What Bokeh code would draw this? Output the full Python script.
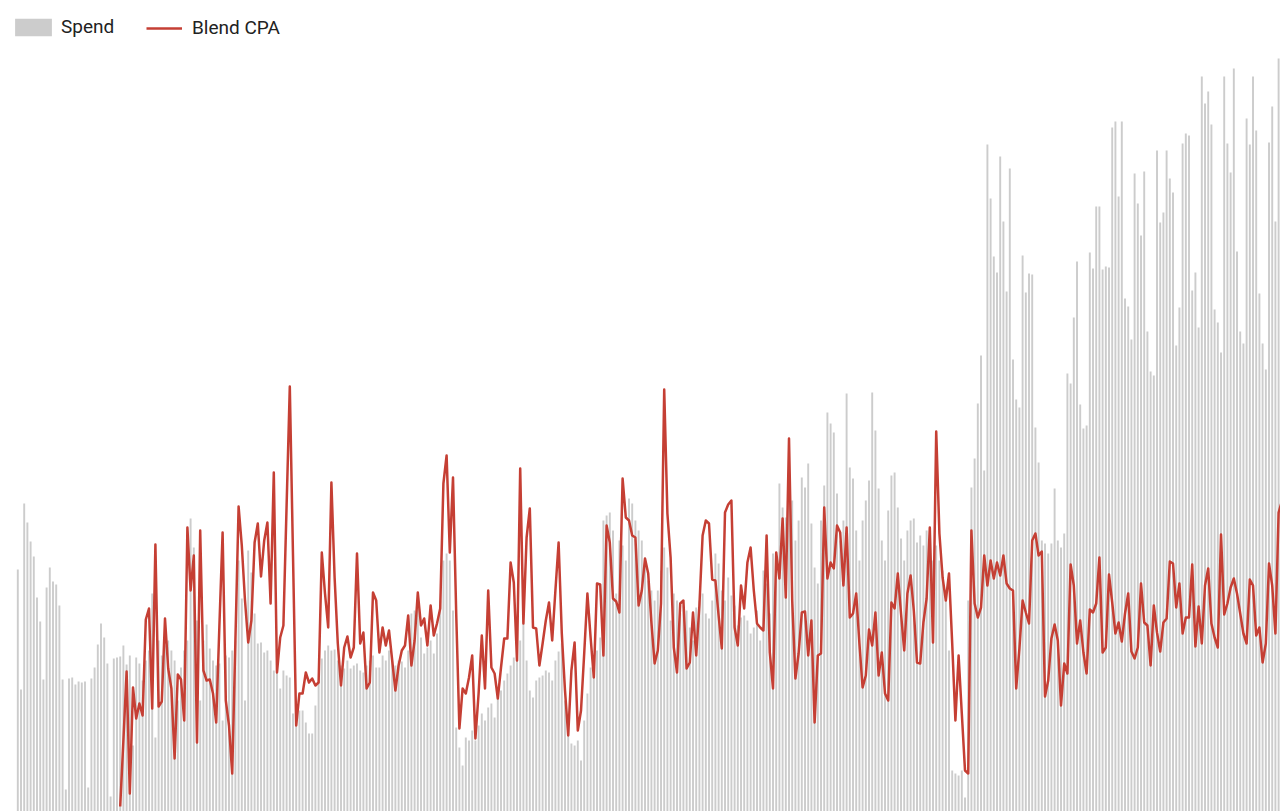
from bokeh.plotting import figure
from bokeh.models import Range1d, Legend, LegendItem, ColumnDataSource
from bokeh.embed import file_html
from bokeh.resources import INLINE

# Daily spend (index = day number)
spend = [
    242, 122, 308, 289, 270, 255, 214, 190, 132, 224,
    244, 230, 227, 206, 132, 22, 133, 134, 127, 130,
    129, 130, 24, 133, 144, 167, 188, 174, 148, 15,
    153, 154, 155, 166, 147, 156, 66, 154, 148, 131,
    151, 161, 218, 74, 171, 156, 166, 171, 161, 151,
    111, 144, 161, 171, 293, 264, 191, 111, 171, 187,
    163, 151, 146, 148, 91, 156, 154, 161, 171, 251,
    213, 111, 261, 239, 198, 168, 169, 159, 161, 151,
    141, 146, 123, 141, 136, 134, 98, 106, 101, 101,
    89, 78, 78, 106, 131, 153, 161, 166, 161, 162,
    151, 146, 143, 151, 143, 146, 148, 141, 139, 146,
    151, 156, 144, 144, 156, 151, 161, 151, 146, 151,
    150, 144, 161, 198, 201, 203, 174, 158, 164, 171,
    158, 178, 211, 251, 258, 251, 201, 84, 64, 46,
    74, 71, 81, 71, 86, 98, 91, 104, 108, 94,
    118, 121, 131, 138, 146, 154, 154, 171, 188, 151,
    121, 114, 131, 134, 136, 141, 139, 131, 151, 160,
    168, 111, 84, 68, 66, 71, 51, 91, 118, 144,
    156, 161, 174, 291, 296, 299, 281, 218, 271, 266,
    251, 313, 308, 291, 281, 271, 251, 231, 221, 211,
    221, 241, 264, 244, 191, 218, 211, 198, 206, 201,
    184, 171, 204, 211, 218, 198, 193, 211, 258, 248,
    221, 211, 234, 216, 206, 186, 194, 196, 191, 178,
    184, 201, 171, 241, 228, 198, 258, 256, 328, 304,
    294, 321, 311, 271, 291, 334, 324, 348, 288, 244,
    228, 291, 326, 399, 388, 379, 318, 271, 291, 418,
    344, 333, 281, 251, 291, 311, 331, 419, 381, 323,
    271, 251, 301, 336, 339, 304, 273, 251, 281, 291,
    293, 269, 276, 266, 281, 271, 251, 266, 251, 241,
    211, 161, 41, 38, 36, 41, 14, 211, 324, 353,
    408, 456, 341, 667, 613, 555, 539, 655, 590, 520,
    643, 452, 412, 404, 556, 519, 538, 537, 384, 349,
    271, 268, 258, 268, 323, 271, 264, 278, 438, 428,
    494, 550, 407, 383, 386, 559, 543, 605, 605, 542,
    545, 544, 684, 690, 615, 690, 513, 505, 472, 638,
    608, 576, 640, 480, 440, 436, 661, 589, 599, 661,
    633, 619, 466, 504, 668, 678, 676, 521, 539, 484,
    735, 708, 720, 687, 502, 489, 459, 735, 668, 639,
    743, 560, 480, 468, 693, 667, 735, 681, 518, 468,
    442, 669, 705, 590, 753, 711,
]

# Blended CPA, starting on day 32
cpa_start_day = 32
cpa = [
    0.5, 7.1, 14.0, 1.8, 12.4, 9.3, 10.8, 9.6, 19.2, 20.3,
    10.3, 26.7, 10.5, 11.0, 19.3, 14.3, 12.3, 5.3, 13.7, 13.2,
    9.1, 28.4, 22.1, 25.6, 6.9, 28.1, 14.1, 13.1, 13.2, 11.8,
    8.9, 18.6, 27.9, 11.1, 8.6, 3.8, 17.1, 30.5, 26.6, 21.1,
    16.9, 19.1, 26.9, 28.8, 23.5, 27.1, 28.9, 20.8, 33.9, 13.9,
    17.4, 18.6, 30.6, 42.5, 25.6, 8.6, 11.8, 11.8, 13.9, 12.9,
    13.3, 12.6, 12.9, 25.9, 21.8, 18.4, 32.9, 23.4, 16.8, 12.6,
    16.4, 17.5, 15.4, 16.4, 25.8, 16.8, 17.9, 12.3, 12.9, 21.9,
    21.1, 15.9, 18.4, 16.6, 18.1, 15.1, 12.1, 14.6, 16.1, 16.6,
    19.6, 14.6, 17.1, 21.9, 18.6, 19.3, 16.6, 20.6, 17.6, 18.8,
    20.3, 32.8, 35.6, 25.9, 33.4, 19.8, 8.3, 12.3, 11.8, 13.4,
    15.6, 7.3, 11.8, 17.6, 12.3, 22.1, 14.4, 13.8, 11.3, 14.4,
    17.3, 17.3, 24.9, 22.9, 15.1, 34.3, 18.8, 27.4, 30.3, 18.4,
    18.3, 14.6, 16.8, 19.1, 20.9, 17.1, 22.1, 26.9, 17.8, 12.1,
    7.6, 14.1, 16.9, 8.1, 10.1, 15.8, 21.8, 17.4, 13.4, 22.8,
    22.7, 15.6, 28.6, 26.9, 21.3, 21.0, 19.9, 33.3, 29.4, 29.1,
    27.6, 27.4, 20.6, 22.1, 25.3, 23.8, 18.9, 14.8, 16.1, 20.8,
    42.2, 29.8, 25.4, 16.4, 13.9, 20.8, 21.1, 14.3, 14.9, 19.9,
    15.6, 20.6, 27.6, 29.1, 28.8, 23.2, 23.1, 19.6, 16.3, 29.9,
    30.7, 31.1, 18.4, 16.6, 22.6, 20.3, 24.9, 26.4, 22.1, 18.8,
    18.4, 18.1, 27.6, 15.9, 12.3, 25.9, 23.3, 29.3, 21.4, 37.3,
    21.1, 13.3, 15.8, 19.9, 20.0, 15.6, 19.1, 8.9, 15.6, 15.8,
    30.4, 23.3, 24.9, 24.3, 28.6, 27.9, 22.6, 28.4, 19.4, 19.8,
    21.8, 16.8, 12.4, 13.6, 18.2, 16.6, 19.9, 13.6, 15.9, 11.8,
    11.1, 20.9, 20.3, 23.8, 19.8, 16.1, 21.8, 23.6, 20.1, 14.9,
    14.8, 18.9, 21.3, 28.4, 16.9, 38.0, 27.8, 23.4, 21.1, 23.8,
    16.8, 9.1, 15.6, 9.8, 4.1, 3.8, 28.1, 20.8, 19.4, 20.4,
    25.6, 22.6, 25.1, 23.3, 24.9, 23.6, 25.6, 22.8, 22.3, 22.1,
    12.3, 16.3, 21.1, 19.9, 18.8, 27.1, 27.8, 25.6, 26.0, 11.5,
    13.1, 17.3, 18.7, 17.1, 10.6, 14.8, 13.8, 24.7, 22.6, 16.8,
    19.1, 15.9, 13.8, 20.2, 19.9, 20.8, 25.4, 15.9, 16.4, 23.7,
    20.9, 17.8, 18.9, 17.0, 19.8, 21.8, 16.0, 15.3, 16.4, 22.8,
    18.9, 18.6, 14.6, 20.6, 17.9, 16.0, 18.9, 19.3, 25.0, 24.8,
    20.4, 22.8, 17.8, 19.4, 19.4, 24.7, 16.5, 20.5, 16.8, 22.6,
    24.3, 18.8, 17.4, 16.4, 27.7, 19.7, 20.8, 22.4, 23.3, 21.8,
    19.8, 17.8, 16.8, 23.2, 22.6, 17.6, 18.4, 14.9, 16.8, 24.8,
    22.6, 17.8, 29.9, 31.0,
]

series_names = ["Spend", "Blend CPA"]

days = list(range(len(spend)))
cpa_days = list(range(cpa_start_day, cpa_start_day + len(cpa)))

bar_src = ColumnDataSource(dict(day=days, spend=spend))
line_src = ColumnDataSource(dict(day=cpa_days, cpa=cpa))

W, H = 1280, 811
p = figure(
    width=W, height=H,
    output_backend="svg", toolbar_location=None,
    x_range=Range1d(-5.406, 394.59),
    y_range=Range1d(0, 811),
    x_axis_location=None, y_axis_location=None,
    min_border=0, min_border_left=0, min_border_right=0,
    min_border_top=0, min_border_bottom=0,
)
p.extra_y_ranges = {"cpa": Range1d(0, 81.1)}
p.grid.visible = False
p.outline_line_color = None
p.background_fill_color = "white"
p.border_fill_color = "white"

bars = p.vbar(x="day", top="spend", bottom=0, width=0.6, source=bar_src,
              fill_color="#cccccc", line_color=None)
line = p.line(x="day", y="cpa", source=line_src, y_range_name="cpa",
              line_color="#c53f34", line_width=2.5, line_join="round")

common = dict(
    orientation="horizontal", padding=0, margin=0,
    border_line_color=None, background_fill_alpha=0,
    label_text_font="Roboto", label_text_font_size="19px",
    label_text_color="#222222", label_text_baseline="middle",
)
# Spend swatch (area legend glyphs are inset by 10%)
leg1 = Legend(items=[LegendItem(label=series_names[0], renderers=[bars])],
              location=(10, H - 38), glyph_width=46, glyph_height=22,
              label_height=22, label_standoff=5, **common)
leg2 = Legend(items=[LegendItem(label=series_names[1], renderers=[line])],
              location=(146, H - 39), glyph_width=36, glyph_height=18,
              label_height=18, label_standoff=10, **common)
p.add_layout(leg1)
p.add_layout(leg2)

open("out.html", "w").write(file_html(p, INLINE))
